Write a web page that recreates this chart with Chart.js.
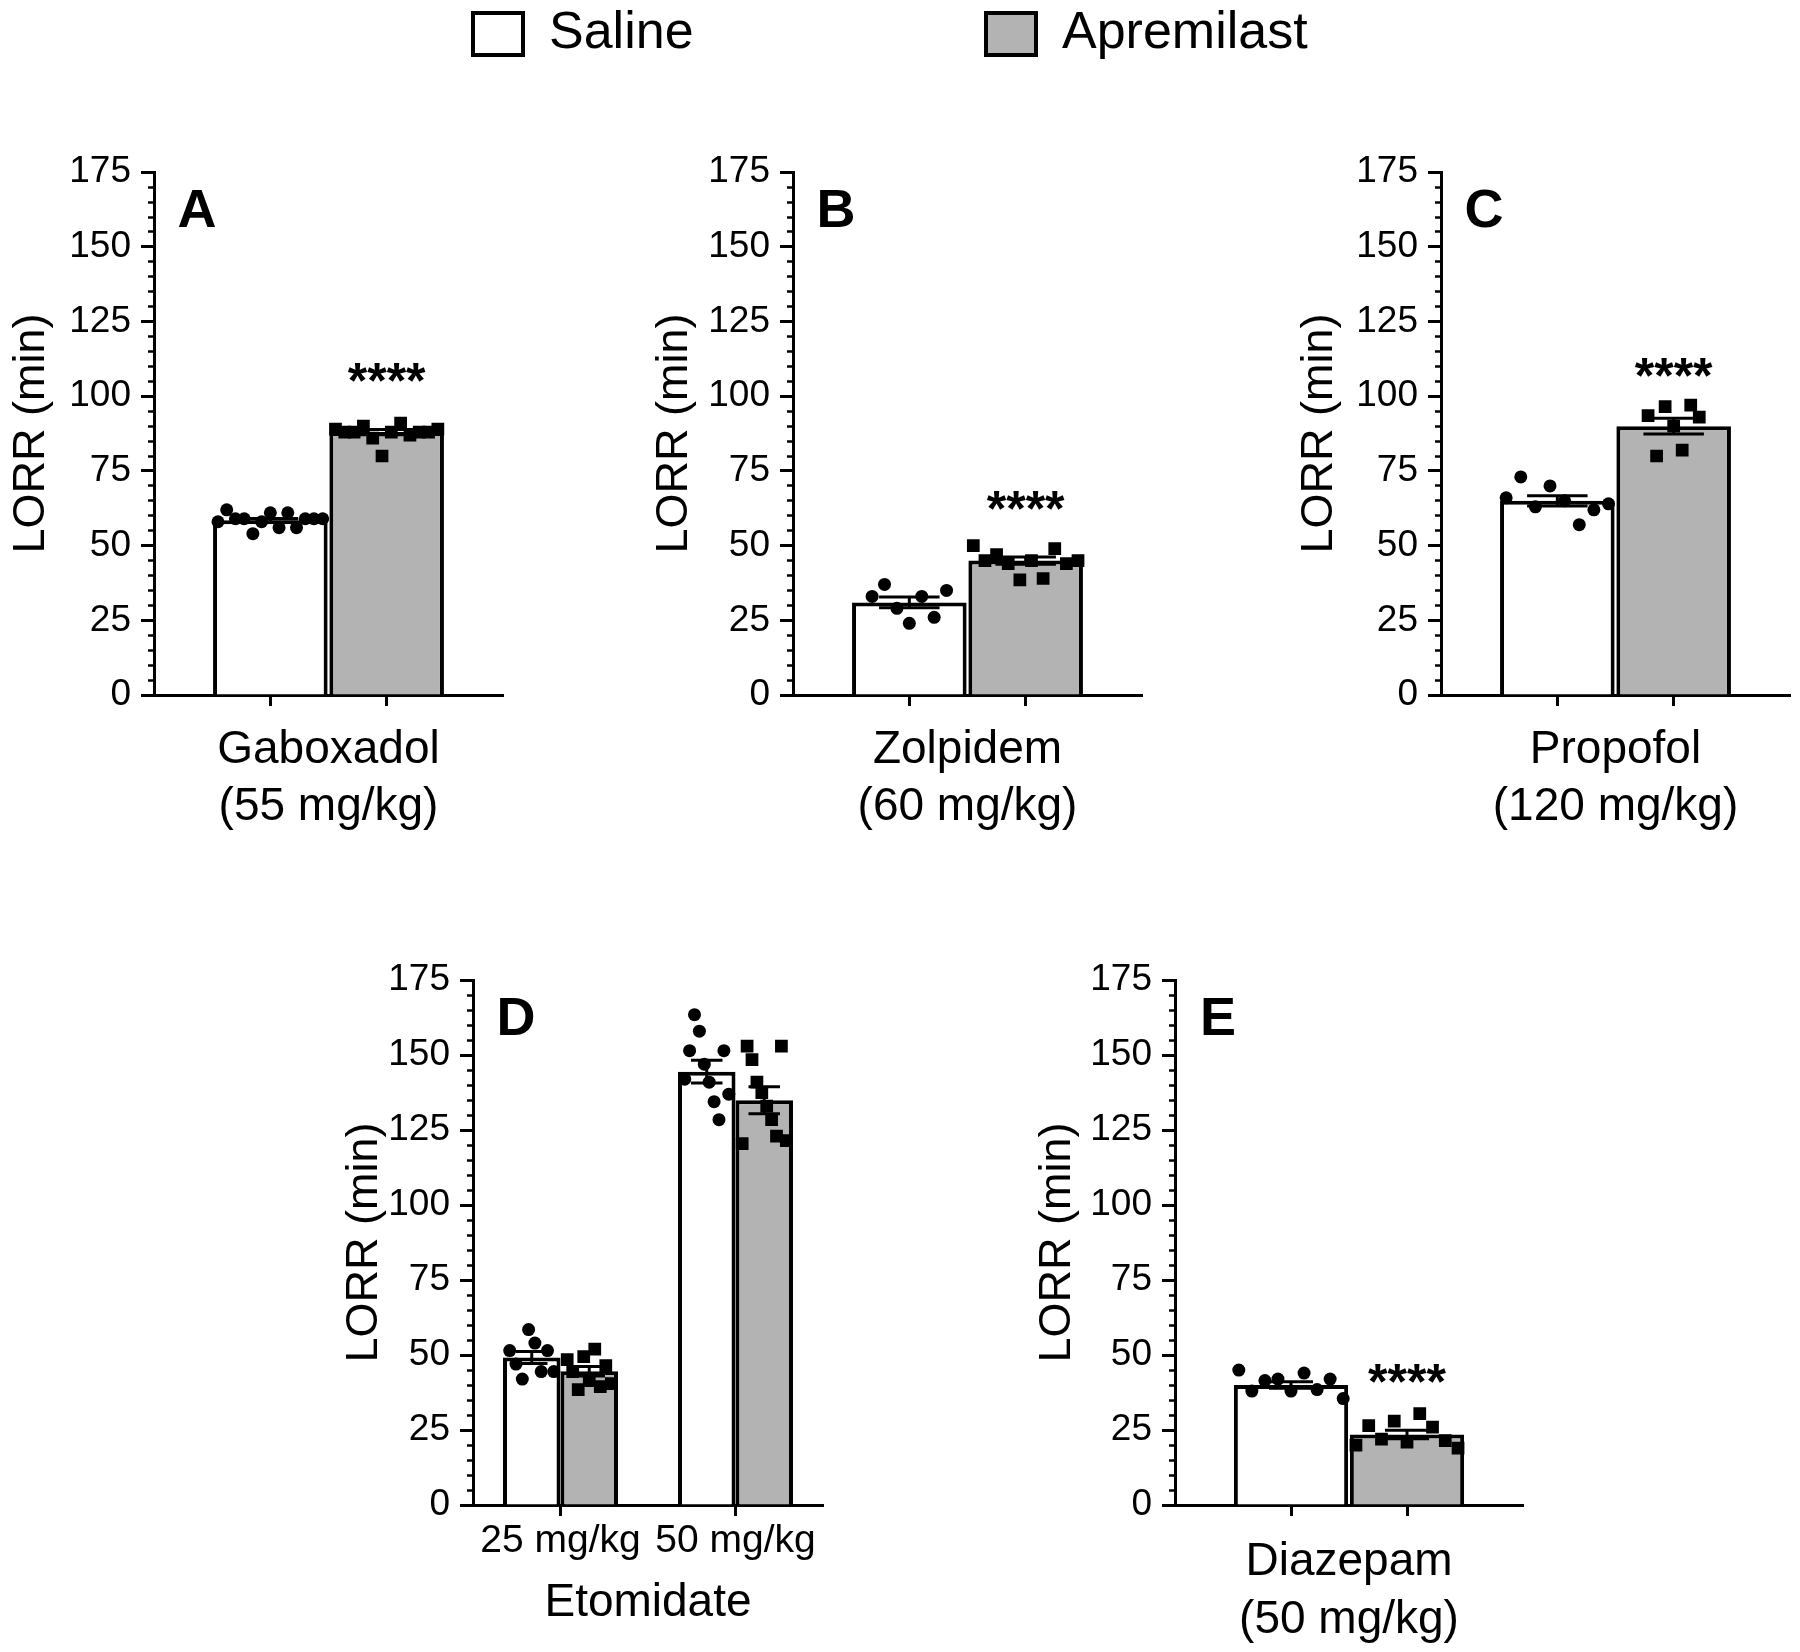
<!DOCTYPE html>
<html>
<head>
<meta charset="utf-8">
<script src="https://cdn.jsdelivr.net/npm/chart.js@4.4.1/dist/chart.umd.min.js"></script>
<style>
  body { margin: 0; background: #fff; width: 1800px; height: 1652px; position: relative; overflow: hidden; }
  canvas { position: absolute; }
</style>
</head>
<body>
<canvas id="legendSaline"></canvas>
<canvas id="legendApremilast"></canvas>
<canvas id="chartA"></canvas>
<canvas id="chartB"></canvas>
<canvas id="chartC"></canvas>
<canvas id="chartD"></canvas>
<canvas id="chartE"></canvas>
<script>
// ---- data ----
const groupNames = ['Saline', 'Apremilast'];
const yTicks = [0, 25, 50, 75, 100, 125, 150, 175];

// A - Gaboxadol (55 mg/kg)
const gaboxadolMean = [58.5, 88];
const gaboxadolSem = [0.6, 0.9];
const gaboxadolSaline = [58, 62, 59, 59, 54, 58, 61, 56, 61, 56, 59, 59, 59];
const gaboxadolApremilast = [89, 88, 88, 90, 86, 80, 88, 91, 87, 88, 88, 89];

// B - Zolpidem (60 mg/kg)
const zolpidemMean = [31, 45];
const zolpidemSem = [1.8, 1.2];
const zolpidemSaline = [33, 37, 29, 24, 33, 26, 35];
const zolpidemApremilast = [50, 45, 47, 44, 38.5, 45, 39, 49, 44, 45];

// C - Propofol (120 mg/kg)
const propofolMean = [65, 90];
const propofolSem = [1.7, 2.6];
const propofolSaline = [66, 73, 63, 70, 65, 57, 62, 64];
const propofolApremilast = [93.5, 80, 96.5, 90, 82, 97, 93];

// D - Etomidate, two doses
const etomidateDoses = ['25 mg/kg', '50 mg/kg'];
const etomidateSalineMean = [49.2, 144.5];
const etomidateSalineSem = [2.0, 3.8];
const etomidateApremilastMean = [44.6, 135];
const etomidateApremilastSem = [1.6, 4.5];
const etomidateSaline25 = [51.5, 47, 42, 58.5, 54, 44.5, 51.5, 44.5];
const etomidateApremilast25 = [48.5, 44.5, 38.5, 49.5, 41.5, 52, 39.5, 46.5, 40.5];
const etomidateSaline50 = [142, 151.5, 163.5, 158, 147, 141, 134.5, 128.5, 151.5, 137];
const etomidateApremilast50 = [120.5, 153, 148.5, 141, 137.5, 133, 128.5, 123, 153, 121.5];

// E - Diazepam (50 mg/kg)
const diazepamMean = [40, 23.5];
const diazepamSem = [1.1, 1.4];
const diazepamSaline = [45, 38, 41.5, 42, 38, 44, 38.5, 42, 35.5];
const diazepamApremilast = [20, 26.5, 22, 28, 21, 30.5, 26, 21.5, 19];

// ---- drawing ----
const FONT = '"Liberation Sans", Arial, Helvetica, sans-serif';
const GREY = '#b3b3b3';
Chart.defaults.font.family = FONT;
Chart.defaults.color = '#000';
Chart.defaults.animation = false;

function spreadPoints(values, center, spread) {
  const n = values.length;
  return values.map((v, i) => ({x: center + (n > 1 ? spread * (2 * i / (n - 1) - 1) : 0), y: v}));
}

function errorBar(center, mean, sem, cap) {
  const lo = mean - sem, hi = mean + sem;
  return [
    {x: center - cap, y: hi}, {x: center + cap, y: hi}, {x: center, y: null},
    {x: center - cap, y: lo}, {x: center + cap, y: lo}, {x: center, y: null},
    {x: center, y: lo}, {x: center, y: hi}, {x: center, y: null}
  ];
}

const panelMarks = {
  id: 'panelMarks',
  afterDraw(chart, args, o) {
    const {ctx, chartArea, scales} = chart;
    const top = scales.y.getPixelForValue(175);
    ctx.save();
    ctx.fillStyle = '#000';
    ctx.textAlign = 'center';
    ctx.textBaseline = 'alphabetic';
    ctx.font = 'bold 54px ' + FONT;
    ctx.fillText(o.letter, chartArea.left + 43, top + 35 + 0.36 * 54);
    ctx.font = 'bold 50px ' + FONT;
    (o.stars || []).forEach(s => {
      ctx.fillText('****', scales.x.getPixelForValue(s.x), scales.y.getPixelForValue(s.y) + 0.57 * 50);
    });
    ctx.restore();
  }
};

function makePanel(p) {
  const canvas = document.getElementById(p.id);
  const padTop = 25, padRight = 12, yW = 150;
  canvas.width = yW + p.area[2] + padRight;
  canvas.height = padTop + p.area[3] + p.xH;
  canvas.style.left = (p.area[0] - yW) + 'px';
  canvas.style.top = (p.area[1] - padTop) + 'px';

  const datasets = [];
  p.bars.forEach(b => datasets.push({
    type: 'bar', label: b.label,
    data: b.x.map((x, i) => ({x: x, y: b.y[i]})),
    backgroundColor: b.color, borderColor: '#000', borderWidth: 4,
    grouped: p.grouped, categoryPercentage: p.catPct, barPercentage: 1, order: 3
  }));
  const eb = [];
  p.groups.forEach(g => {
    eb.push(...errorBar(g.x, g.mean, g.sem, g.cap));
    datasets.push({
      type: 'scatter', label: g.label,
      data: spreadPoints(g.points, g.x, g.spread),
      pointStyle: g.shape, pointRadius: g.shape === 'rect' ? 9 : 6.5,
      backgroundColor: '#000', borderWidth: 0, order: 1
    });
  });
  datasets.push({type: 'line', label: 'SEM', data: eb, borderColor: '#000', borderWidth: 3,
    pointRadius: 0, spanGaps: false, order: 2});

  return new Chart(canvas, {
    type: 'bar',
    data: {datasets: datasets},
    plugins: [panelMarks],
    options: {
      responsive: false,
      events: [],
      layout: {padding: {top: padTop, right: padRight, left: 0, bottom: 0}},
      scales: {
        x: {
          type: 'linear', min: p.xMin, max: p.xMax, offset: false,
          afterBuildTicks: s => { s.ticks = p.xTicks.map(v => ({value: v})); },
          ticks: {display: !!p.xLabels, callback: (v, i) => p.xLabels ? p.xLabels[i] : '',
            font: {size: 39}, color: '#000', padding: 2, maxRotation: 0, autoSkip: false},
          grid: {offset: false, drawOnChartArea: false, tickLength: 11, tickWidth: 3, tickColor: '#000'},
          border: {color: '#000', width: 3},
          title: {display: true, text: p.xTitle, color: '#000', padding: 0,
            font: {size: 46, lineHeight: p.xLineHeight}},
          afterFit: s => { s.height = p.xH; }
        },
        y: {
          position: 'left', weight: 1, min: 0, max: 175,
          afterBuildTicks: s => { s.ticks = yTicks.map(v => ({value: v})); },
          ticks: {font: {size: 37}, color: '#000', padding: 10},
          grid: {drawOnChartArea: false, tickLength: 13, tickWidth: 3, tickColor: '#000'},
          border: {color: '#000', width: 3},
          title: {display: true, text: 'LORR (min)', color: '#000', font: {size: 45},
            padding: {top: 123 - p.titleGap, bottom: 0}},
          afterFit: s => { s.width = yW; }
        },
        yMinor: {
          position: 'left', weight: 0, min: 0, max: 175,
          ticks: {stepSize: 5, display: false},
          grid: {drawOnChartArea: false, tickLength: 6, tickWidth: 2.5, tickColor: '#000'},
          border: {display: false},
          afterFit: s => { s.width = 0; }
        }
      },
      plugins: {
        legend: {display: false},
        tooltip: {enabled: false},
        panelMarks: {letter: p.letter, stars: p.stars}
      }
    }
  });
}

// two-group panels (A, B, C, E)
function pairPanel(id, letter, area, mean, sem, saline, apremilast, xTitle, spreads, cap, xH, titleGap, lineH, starGap) {
  return makePanel({
    id: id, letter: letter, area: area, xMin: 0, xMax: 3, xTicks: [1, 2],
    grouped: false, catPct: 0.985, xH: xH, titleGap: titleGap, xTitle: xTitle, xLineHeight: lineH,
    bars: [
      {label: groupNames[0], x: [1], y: [mean[0]], color: '#fff'},
      {label: groupNames[1], x: [2], y: [mean[1]], color: GREY}
    ],
    groups: [
      {label: groupNames[0], x: 1, mean: mean[0], sem: sem[0], points: saline, shape: 'circle', spread: spreads[0], cap: cap},
      {label: groupNames[1], x: 2, mean: mean[1], sem: sem[1], points: apremilast, shape: 'rect', spread: spreads[1], cap: cap}
    ],
    stars: [{x: 2, y: mean[1] + sem[1] + starGap}]
  });
}

pairPanel('chartA', 'A', [154, 164.5, 349, 530.5], gaboxadolMean, gaboxadolSem, gaboxadolSaline, gaboxadolApremilast,
  ['Gaboxadol', '(55 mg/kg)'], [0.45, 0.44], 0.24, 141, 122, 1.24, 20);
pairPanel('chartB', 'B', [793, 164.5, 349, 530.5], zolpidemMean, zolpidemSem, zolpidemSaline, zolpidemApremilast,
  ['Zolpidem', '(60 mg/kg)'], [0.32, 0.45], 0.26, 141, 118, 1.24, 20);
pairPanel('chartC', 'C', [1441, 164.5, 349, 530.5], propofolMean, propofolSem, propofolSaline, propofolApremilast,
  ['Propofol', '(120 mg/kg)'], [0.44, 0.22], 0.26, 141, 121, 1.24, 18);
pairPanel('chartE', 'E', [1175, 972.5, 348, 532.5], diazepamMean, diazepamSem, diazepamSaline, diazepamApremilast,
  ['Diazepam', '(50 mg/kg)'], [0.45, 0.44], 0.19, 144, 117, 1.26, 20);

// D - Etomidate, grouped by dose
const dOff = 0.1643;
makePanel({
  id: 'chartD', letter: 'D', area: [473, 972.5, 350, 532.5], xMin: 0.5, xMax: 2.5, xTicks: [1, 2],
  xLabels: etomidateDoses, grouped: true, catPct: 0.657, xH: 127, titleGap: 108,
  xTitle: 'Etomidate', xLineHeight: 1.24,
  bars: [
    {label: groupNames[0], x: [1, 2], y: etomidateSalineMean, color: '#fff'},
    {label: groupNames[1], x: [1, 2], y: etomidateApremilastMean, color: GREY}
  ],
  groups: [
    {x: 1 - dOff, mean: etomidateSalineMean[0], sem: etomidateSalineSem[0], points: etomidateSaline25, shape: 'circle', spread: 0.126, cap: 0.09},
    {x: 1 + dOff, mean: etomidateApremilastMean[0], sem: etomidateApremilastSem[0], points: etomidateApremilast25, shape: 'rect', spread: 0.126, cap: 0.09},
    {x: 2 - dOff, mean: etomidateSalineMean[1], sem: etomidateSalineSem[1], points: etomidateSaline50, shape: 'circle', spread: 0.126, cap: 0.09},
    {x: 2 + dOff, mean: etomidateApremilastMean[1], sem: etomidateApremilastSem[1], points: etomidateApremilast50, shape: 'rect', spread: 0.126, cap: 0.09}
  ],
  stars: []
});

// legend across the top: one small chart per entry
function legendEntry(id, index, left) {
  const canvas = document.getElementById(id);
  canvas.width = 420;
  canvas.height = 200;
  canvas.style.left = left + 'px';
  canvas.style.top = '2px';
  return new Chart(canvas, {
    type: 'bar',
    data: {
      labels: [],
      datasets: groupNames.map((g, i) => ({
        label: g, data: [], backgroundColor: i ? GREY : '#fff', borderColor: '#000', borderWidth: 4
      }))
    },
    options: {
      responsive: false,
      events: [],
      scales: {x: {display: false}, y: {display: false}},
      plugins: {
        tooltip: {enabled: false},
        legend: {
          display: true, position: 'top', align: 'start',
          labels: {boxWidth: 50, boxHeight: 42, font: {size: 52}, color: '#000', padding: 6,
            filter: item => item.datasetIndex === index}
        }
      }
    }
  });
}
legendEntry('legendSaline', 0, 467);
legendEntry('legendApremilast', 1, 980);
</script>
</body>
</html>
